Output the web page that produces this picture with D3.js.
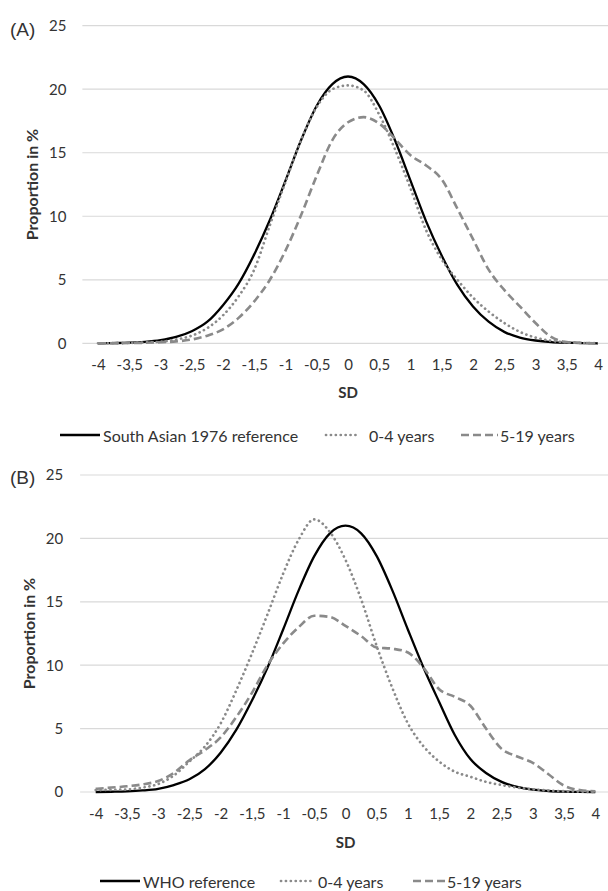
<!DOCTYPE html>
<html>
<head>
<meta charset="utf-8">
<script src="https://cdn.jsdelivr.net/npm/d3@7"></script>
<style>
  html, body { margin: 0; padding: 0; background: #fff; }
  svg { display: block; }
  text { font-family: Lato, "Open Sans", sans-serif; fill: #333; }
</style>
</head>
<body>
<svg id="chart" width="608" height="891"></svg>
<script>
// ---- DATA ----
const sdValues = [-4,-3.75,-3.5,-3.25,-3,-2.75,-2.5,-2.25,-2,-1.75,-1.5,-1.25,-1,-0.75,-0.5,-0.25,0,
                  0.25,0.5,0.75,1,1.25,1.5,1.75,2,2.25,2.5,2.75,3,3.25,3.5,3.75,4];

// Panel A
const southAsianRef = [0,0.02,0.05,0.12,0.25,0.5,0.95,1.7,3.0,4.7,7.0,9.7,12.8,16.0,18.7,20.4,21.0,
                       20.4,18.7,16.0,12.8,9.6,6.9,4.6,2.9,1.7,0.9,0.45,0.22,0.1,0.05,0.02,0];
const a_0to4 = [0,0.01,0.03,0.07,0.12,0.3,0.6,1.2,2.2,3.7,5.8,9.3,12.7,16.0,18.6,20.0,20.3,
                19.9,18.0,15.3,12.2,8.9,6.6,5.0,3.6,2.5,1.6,0.9,0.45,0.2,0.08,0.03,0];
const a_5to19 = [0,0.01,0.02,0.04,0.08,0.15,0.3,0.6,1.1,2.0,3.3,5.0,7.3,10.1,13.2,16.0,17.4,
                 17.8,17.3,16.1,14.8,14.0,12.9,10.6,8.2,5.8,4.2,2.9,1.6,0.5,0.1,0.03,0];

// Panel B
const whoRef = [0,0.02,0.05,0.12,0.25,0.55,1.0,1.8,3.1,4.9,7.2,9.8,12.8,15.9,18.6,20.4,21.0,
                20.4,18.6,15.9,12.8,9.8,7.1,4.5,2.6,1.5,0.8,0.4,0.18,0.08,0.03,0.01,0];
const b_0to4 = [0.15,0.17,0.2,0.35,0.63,1.3,2.4,3.6,5.4,8.0,10.9,14.0,17.2,19.9,21.5,20.5,18.3,
                15.2,11.5,8.2,5.4,3.6,2.4,1.6,1.2,0.8,0.55,0.35,0.22,0.12,0.06,0.03,0];
const b_5to19 = [0.25,0.35,0.45,0.6,0.87,1.5,2.5,3.3,4.3,5.9,7.8,10.0,11.7,13.0,13.9,13.8,13.1,
                 12.3,11.4,11.3,11.0,9.8,8.1,7.5,6.8,5.0,3.4,2.8,2.3,1.4,0.5,0.15,0.05];

const xTickValues = [-4,-3.5,-3,-2.5,-2,-1.5,-1,-0.5,0,0.5,1,1.5,2,2.5,3,3.5,4];
const yTickValues = [0,5,10,15,20,25];

const legendA = ["South Asian 1976 reference", "0-4 years", "5-19 years"];
const legendB = ["WHO reference", "0-4 years", "5-19 years"];

// ---- DRAWING ----
const svg = d3.select("#chart");

const styles = [
  { stroke: "#000", width: 2.3, dash: null, cap: "butt" },
  { stroke: "#8a8a8a", width: 2.7, dash: "0.1 4.8", cap: "round" },
  { stroke: "#8a8a8a", width: 2.6, dash: "8 4", cap: "butt" }
];

function drawPanel(cfg) {
  const g = svg.append("g");
  const x = d3.scaleLinear().domain([-4, 4]).range([cfg.xl, cfg.xr]);
  const y = d3.scaleLinear().domain([0, 25]).range([cfg.y0, cfg.y25]);
  const half = (cfg.xr - cfg.xl) / 32;

  // gridlines
  g.append("g").selectAll("line").data(yTickValues).join("line")
    .attr("x1", cfg.xl - half).attr("x2", cfg.xr + half)
    .attr("y1", d => y(d)).attr("y2", d => y(d))
    .attr("stroke", "#d9d9d9").attr("stroke-width", 1.2);

  // y axis labels
  const ya = g.append("g").attr("transform", `translate(${cfg.xl - half},0)`)
    .call(d3.axisLeft(y).tickValues(yTickValues).tickSize(0).tickPadding(cfg.ypad));
  ya.select(".domain").remove();
  ya.selectAll("text").style("font-size", "15px").style("font-family", "Lato").attr("fill", "#333");

  // x axis labels
  const xa = g.append("g").attr("transform", `translate(0,${cfg.y0})`)
    .call(d3.axisBottom(x).tickValues(xTickValues).tickSize(0).tickPadding(cfg.xpad)
      .tickFormat(d => String(d).replace(".", ",")));
  xa.select(".domain").remove();
  xa.selectAll("text").style("font-size", "15px").style("font-family", "Lato").attr("fill", "#333");

  // series
  const line = d3.line().x((d, i) => x(sdValues[i])).y(d => y(d)).curve(d3.curveMonotoneX);
  cfg.series.forEach((s, k) => {
    const st = styles[k];
    g.append("path").datum(s).attr("d", line)
      .attr("fill", "none").attr("stroke", st.stroke).attr("stroke-width", st.width)
      .attr("stroke-dasharray", st.dash).attr("stroke-linecap", st.cap)
      .attr("stroke-linejoin", "round");
  });

  // panel label
  g.append("text").attr("x", cfg.labelX).attr("y", cfg.labelY).text(cfg.label)
    .style("font-family", "'Liberation Sans', Arial, sans-serif").style("font-size", "19px").attr("fill", "#222");

  // y title
  g.append("text")
    .attr("transform", `translate(${cfg.ytitleX},${(cfg.y0 + cfg.y25) / 2}) rotate(-90)`)
    .attr("text-anchor", "middle").attr("dominant-baseline", "central")
    .style("font-size", "16px").style("font-weight", "bold").text("Proportion in %");

  // x title
  g.append("text").attr("x", x(0)).attr("y", cfg.xtitleY)
    .attr("text-anchor", "middle").attr("dominant-baseline", "central")
    .style("font-size", "15px").style("font-weight", "bold").text("SD");

  // legend
  const lg = g.append("g");
  cfg.legend.forEach((lab, k) => {
    const st = styles[k];
    const cx = cfg.legStarts[k];
    lg.append("line").attr("x1", cx).attr("x2", cx + cfg.legLine[k])
      .attr("y1", cfg.legY).attr("y2", cfg.legY)
      .attr("stroke", st.stroke).attr("stroke-width", st.width)
      .attr("stroke-dasharray", st.dash).attr("stroke-linecap", st.cap);
    lg.append("text").attr("x", cx + cfg.legLine[k] + cfg.legTextGap[k]).attr("y", cfg.legY)
      .attr("dominant-baseline", "central").style("font-size", "16px").text(lab);
  });
}

drawPanel({
  xl: 98, xr: 598, y0: 343.3, y25: 25.7, ypad: 16, xpad: 16,
  series: [southAsianRef, a_0to4, a_5to19],
  label: "(A)", labelX: 10, labelY: 36,
  ytitleX: 31, xtitleY: 392,
  legend: legendA, legY: 435,
  legStarts: [60, 326, 461], legLine: [40, 34, 37], legTextGap: [3, 9, 2]
});

drawPanel({
  xl: 95.7, xr: 595.3, y0: 792, y25: 475, ypad: 17, xpad: 16,
  series: [whoRef, b_0to4, b_5to19],
  label: "(B)", labelX: 10, labelY: 484,
  ytitleX: 28, xtitleY: 842,
  legend: legendB, legY: 881,
  legStarts: [100, 281, 413], legLine: [40, 31, 33], legTextGap: [3, 6, 1]
});
</script>
</body>
</html>
